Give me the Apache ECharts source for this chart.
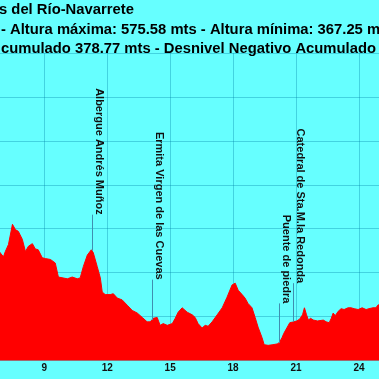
<!DOCTYPE html>
<html>
<head>
<meta charset="utf-8">
<script src="https://cdn.jsdelivr.net/npm/echarts@6/dist/echarts.min.js"></script>
<style>html,body{margin:0;padding:0;background:#66ffff;}#c{width:379px;height:379px;}</style>
</head>
<body>
<div id="c"></div>
<script>
// Distance (km) along the stage, visible window
const kms = [6.85, 6.90, 7.05, 7.14, 7.29, 7.48, 7.62, 7.76, 7.95, 8.10, 8.24, 8.43, 8.57, 8.71, 8.90, 9.05, 9.29, 9.52, 9.67, 9.76, 10.10, 10.33, 10.57, 10.71, 10.86, 11.05, 11.24, 11.33, 11.52, 11.67, 11.76, 11.90, 12.14, 12.29, 12.48, 12.71, 12.95, 13.19, 13.43, 13.67, 13.90, 14.05, 14.19, 14.38, 14.52, 14.67, 14.86, 15.10, 15.24, 15.38, 15.57, 15.81, 16.05, 16.19, 16.33, 16.52, 16.67, 16.81, 17.00, 17.24, 17.48, 17.71, 17.95, 18.10, 18.24, 18.43, 18.57, 18.71, 18.90, 19.05, 19.19, 19.38, 19.48, 19.67, 19.90, 20.14, 20.24, 20.33, 20.42, 20.56, 20.70, 20.89, 21.03, 21.17, 21.31, 21.40, 21.45, 21.50, 21.59, 21.69, 21.83, 21.88, 22.02, 22.11, 22.30, 22.44, 22.58, 22.68, 22.77, 22.87, 23.01, 23.15, 23.29, 23.48, 23.62, 23.77, 23.96, 24.15, 24.34, 24.48, 24.67, 24.81, 24.90, 25.00, 25.10];
// Altitude (m)
const elevs = [474, 474, 468, 474, 482, 505, 499, 497, 488, 474, 480, 483, 477, 476, 467, 466, 465, 461, 445, 443, 443, 445, 443, 444, 457, 470, 476, 473, 457, 444, 428, 425, 425, 426, 421, 419, 413, 407, 404, 399, 394, 394, 398, 399, 390, 392, 390, 392, 398, 405, 410, 405, 402, 399, 392, 387, 390, 389, 394, 402, 410, 422, 436, 438, 430, 425, 421, 415, 410, 399, 388, 376, 368, 367.25, 368, 369, 372, 376, 381, 387, 393, 394, 395, 397, 402, 410, 410, 402, 396, 398, 396, 398, 395, 397, 396, 394, 393, 398, 404, 401, 406, 409, 408, 410, 410, 409, 408, 410, 408, 409, 410, 410, 413, 414, 414];

// Waypoints
const markerNames = ['Albergue Andrés Muñoz', 'Ermita Virgen de las Cuevas', 'Puente de piedra', 'Catedral de Sta.M.la Redonda'];
const markerKm = [11.29, 14.16, 20.20, 20.86];
const markerBase = [475, 396, 370, 394];
const markerTop = [516, 442, 415, 438];

const titleLines = [
  's del Río-Navarrete',
  '- Altura máxima: 575.58 mts - Altura mínima: 367.25 mts',
  'cumulado 378.77 mts - Desnivel Negativo Acumulado'
];

const xMin = 6, xMax = 27, xStep = 3;
const yMin = 350, yMax = 700, yStep = 50;

const chart = echarts.init(document.getElementById('c'), null, {renderer: 'canvas'});

const gridColor = 'rgba(0,130,165,0.35)';
const titleStyle = {fontFamily: 'Liberation Sans, Arial, sans-serif', fontSize: 14.8, fontWeight: 'bold', color: '#000'};

chart.setOption({
  animation: false,
  backgroundColor: '#66ffff',
  title: [
    {text: titleLines[0], left: -1, top: 2.5, padding: 0, textStyle: titleStyle},
    {text: titleLines[1], left: 1, top: 22, padding: 0, textStyle: titleStyle},
    {text: titleLines[2], left: 1, top: 41, padding: 0, textStyle: titleStyle}
  ],
  grid: {left: -18.6, right: -42.9, top: 53, bottom: 18.5, show: false, containLabel: false, outerBoundsMode: 'none'},
  xAxis: {
    type: 'value', min: xMin, max: xMax, interval: xStep,
    axisLine: {show: false}, axisTick: {show: false},
    axisLabel: {margin: 3, fontSize: 10, fontWeight: 'bold', color: '#111', fontFamily: 'Liberation Sans, Arial, sans-serif'},
    splitLine: {show: true, lineStyle: {color: gridColor, width: 1}}
  },
  yAxis: {
    type: 'value', min: yMin, max: yMax, interval: yStep,
    axisLine: {show: false}, axisTick: {show: false},
    axisLabel: {show: false},
    splitLine: {show: true, lineStyle: {color: gridColor, width: 1}}
  },
  series: [{
    type: 'line',
    data: kms.map((k, i) => [k, elevs[i]]),
    showSymbol: false,
    symbol: 'none',
    lineStyle: {color: '#ff0000', width: 1},
    areaStyle: {color: '#ff0000', opacity: 1},
    silent: true,
    markLine: {
      silent: true,
      symbol: ['none', 'none'],
      lineStyle: {color: '#3f8fb0', width: 1, type: 'solid'},
      label: {
        show: true,
        position: 'insideStartTop',
        align: 'right',
        distance: [0, 1],
        fontSize: 11,
        fontWeight: 'bold',
        color: '#111',
        fontFamily: 'Liberation Sans, Arial, sans-serif',
        formatter: p => p.name
      },
      data: markerNames.map((n, i) => [
        {name: n, coord: [markerKm[i], markerTop[i]]},
        {coord: [markerKm[i], markerBase[i]]}
      ])
    }
  }]
});
</script>
</body>
</html>
